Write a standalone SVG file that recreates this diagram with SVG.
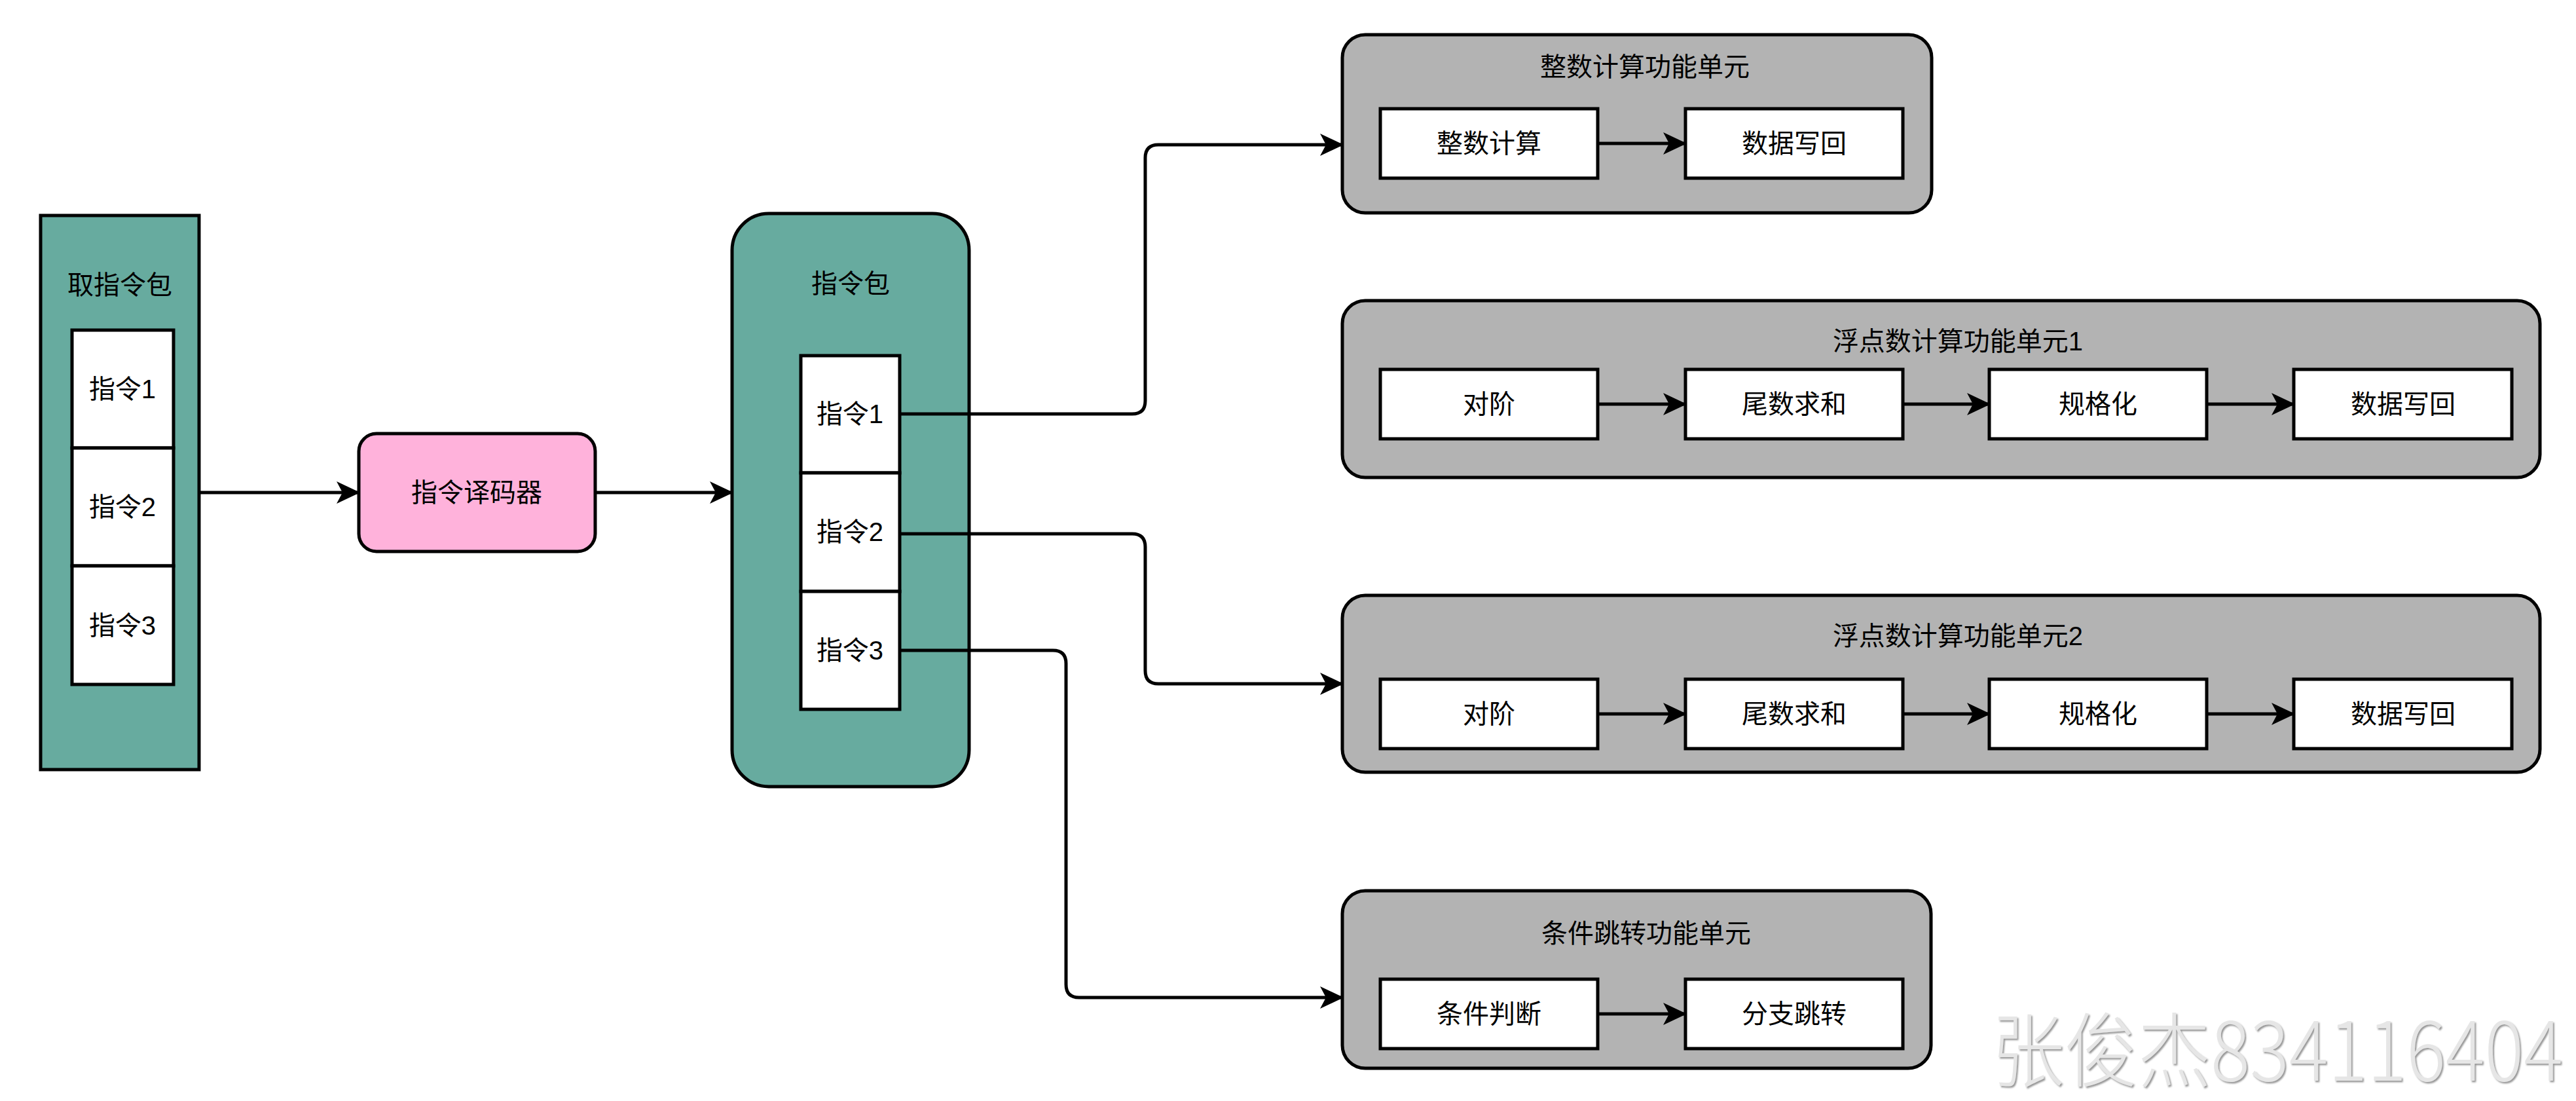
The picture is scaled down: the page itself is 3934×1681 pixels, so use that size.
<svg xmlns="http://www.w3.org/2000/svg" width="3934" height="1681" viewBox="0 0 3934 1681">
<style>
text{font-family:"Liberation Sans","Noto Sans CJK SC",sans-serif;font-size:40px;fill:#000;text-anchor:middle;dominant-baseline:central}
.teal{fill:#67AB9F;stroke:#000;stroke-width:5}
.white{fill:#fff;stroke:#000;stroke-width:5}
.gray{fill:#B3B3B3;stroke:#000;stroke-width:5}
.pink{fill:#FFB2DB;stroke:#000;stroke-width:5}
.edge{fill:none;stroke:#000;stroke-width:5;marker-end:url(#arr)}
.wm{font-family:"Noto Sans CJK SC",sans-serif;font-size:108px;font-weight:300;fill:#E6E6E6;text-anchor:end;dominant-baseline:alphabetic}
</style>
<defs>
<marker id="arr" viewBox="0 0 36 34" refX="34" refY="17" markerWidth="36" markerHeight="34" markerUnits="userSpaceOnUse" orient="auto">
<path d="M0,0 L36,17 L0,34 L9,17 Z" fill="#000"/>
</marker>
<filter id="sh" x="-5%" y="-20%" width="110%" height="140%">
<feDropShadow dx="2" dy="2" stdDeviation="1" flood-color="#8a8a8a" flood-opacity="0.9"/>
</filter>
</defs>
<rect width="3934" height="1681" fill="#fff"/>

<g id="fetch">
<rect class="teal" x="62" y="329" width="242" height="846"/>
<text x="183" y="435">取指令包</text>
<rect class="white" x="110" y="504" width="155" height="180"/>
<text x="187" y="594">指令1</text>
<rect class="white" x="110" y="684" width="155" height="180"/>
<text x="187" y="774">指令2</text>
<rect class="white" x="110" y="864" width="155" height="181"/>
<text x="187" y="955">指令3</text>
</g>

<g id="decoder">
<rect class="pink" x="548" y="662" width="361" height="180" rx="27"/>
<text x="728" y="752">指令译码器</text>
</g>

<g id="packet">
<rect class="teal" x="1118" y="326" width="362" height="875" rx="56"/>
<text x="1299" y="433">指令包</text>
<rect class="white" x="1223" y="543" width="151" height="179"/>
<text x="1298" y="632">指令1</text>
<rect class="white" x="1223" y="722" width="151" height="181"/>
<text x="1298" y="812">指令2</text>
<rect class="white" x="1223" y="903" width="151" height="180"/>
<text x="1298" y="993">指令3</text>
</g>

<g id="int-unit">
<rect class="gray" x="2050" y="53" width="900" height="272" rx="35"/>
<text x="2512" y="102">整数计算功能单元</text>
<rect class="white" x="2108" y="166" width="332" height="106"/>
<text x="2274" y="219">整数计算</text>
<rect class="white" x="2574" y="166" width="332" height="106"/>
<text x="2740" y="219">数据写回</text>
</g>

<g id="fp-unit-1">
<rect class="gray" x="2050" y="459" width="1829" height="270" rx="35"/>
<text x="2990" y="521">浮点数计算功能单元1</text>
<rect class="white" x="2108" y="564" width="332" height="106"/>
<text x="2274" y="617">对阶</text>
<rect class="white" x="2574" y="564" width="332" height="106"/>
<text x="2740" y="617">尾数求和</text>
<rect class="white" x="3038" y="564" width="332" height="106"/>
<text x="3204" y="617">规格化</text>
<rect class="white" x="3503" y="564" width="333" height="106"/>
<text x="3670" y="617">数据写回</text>
</g>

<g id="fp-unit-2">
<rect class="gray" x="2050" y="909" width="1829" height="270" rx="35"/>
<text x="2990" y="971">浮点数计算功能单元2</text>
<rect class="white" x="2108" y="1037" width="332" height="106"/>
<text x="2274" y="1090">对阶</text>
<rect class="white" x="2574" y="1037" width="332" height="106"/>
<text x="2740" y="1090">尾数求和</text>
<rect class="white" x="3038" y="1037" width="332" height="106"/>
<text x="3204" y="1090">规格化</text>
<rect class="white" x="3503" y="1037" width="333" height="106"/>
<text x="3670" y="1090">数据写回</text>
</g>

<g id="branch-unit">
<rect class="gray" x="2050" y="1360" width="899" height="271" rx="35"/>
<text x="2514" y="1425">条件跳转功能单元</text>
<rect class="white" x="2108" y="1495" width="332" height="106"/>
<text x="2274" y="1548">条件判断</text>
<rect class="white" x="2574" y="1495" width="332" height="106"/>
<text x="2740" y="1548">分支跳转</text>
</g>

<g id="connectors">
<path class="edge" d="M304,752 H548"/>
<path class="edge" d="M909,752 H1118"/>
<path class="edge" d="M1374,632 H1729 Q1749,632 1749,612 V241 Q1749,221 1769,221 H2050"/>
<path class="edge" d="M1374,815 H1729 Q1749,815 1749,835 V1024 Q1749,1044 1769,1044 H2050"/>
<path class="edge" d="M1374,993 H1608 Q1628,993 1628,1013 V1503 Q1628,1523 1648,1523 H2050"/>
<path class="edge" d="M2440,219 H2574"/>
<path class="edge" d="M2440,617 H2574"/>
<path class="edge" d="M2906,617 H3038"/>
<path class="edge" d="M3370,617 H3503"/>
<path class="edge" d="M2440,1090 H2574"/>
<path class="edge" d="M2906,1090 H3038"/>
<path class="edge" d="M3370,1090 H3503"/>
<path class="edge" d="M2440,1548 H2574"/>
</g>

<text class="wm" filter="url(#sh)" transform="translate(3914,1650) scale(1,1.15)" x="0" y="0" textLength="873" lengthAdjust="spacingAndGlyphs">张俊杰834116404</text>
</svg>
